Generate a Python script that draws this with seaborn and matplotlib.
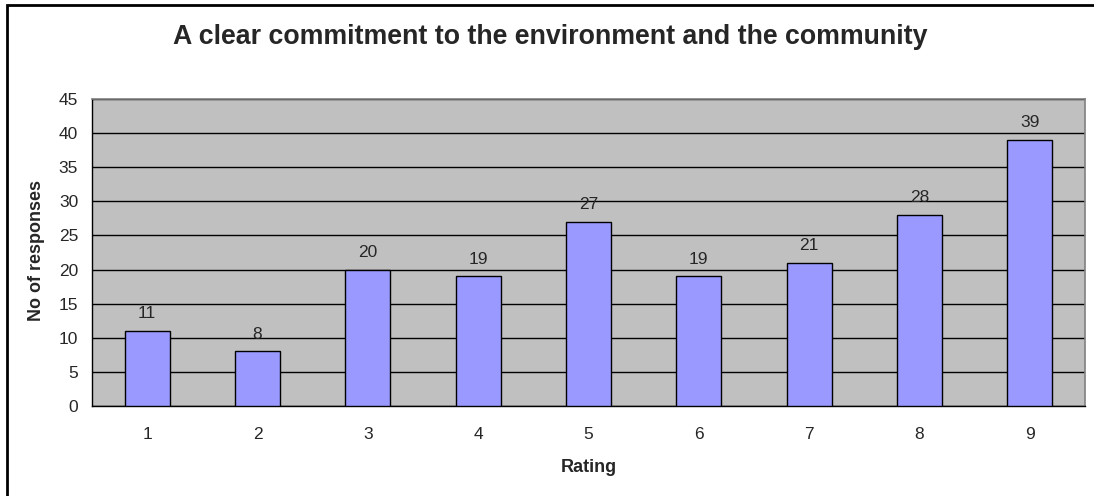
import matplotlib
matplotlib.use("Agg")
import matplotlib.pyplot as plt
import seaborn as sns
import pandas as pd
from matplotlib.patches import Rectangle

# data
ratings = ["1", "2", "3", "4", "5", "6", "7", "8", "9"]
responses = [11, 8, 20, 19, 27, 19, 21, 28, 39]

df = pd.DataFrame({"Rating": ratings, "Responses": responses})

sns.set_style("white")
plt.rcParams['font.family'] = ['Liberation Sans', 'DejaVu Sans']

fig = plt.figure(figsize=(10.94, 4.96), dpi=100)
ax = fig.add_axes([92 / 1094, 1 - 406 / 496, (1085 - 92) / 1094, (406 - 99) / 496])
ax.set_facecolor("#C0C0C0")

sns.barplot(data=df, x="Rating", y="Responses", color="#9999FF",
            edgecolor="black", linewidth=1, width=0.41, saturation=1, ax=ax, zorder=3)

ax.set_ylim(0, 45)
ax.set_yticks(range(0, 46, 5))
ax.set_xlim(-0.5, 8.5)
ax.yaxis.grid(True, color="black", linewidth=1, zorder=1)
ax.set_axisbelow(True)

# x ticks between categories, labels centred
ax.set_xticks([i + 0.5 for i in range(-1, 9)], minor=False)
ax.set_xticklabels([])
ax.set_xticks(range(9), minor=True)
ax.set_xticklabels(ratings, minor=True)
ax.tick_params(axis="x", which="major", direction="out", length=5, width=1, color="black")
ax.tick_params(axis="x", which="minor", length=0, pad=15, labelsize=12.5)
ax.tick_params(axis="y", direction="out", length=5, width=1, color="black", labelsize=12.5, pad=5)

for side in ["left", "bottom"]:
    ax.spines[side].set_color("black")
    ax.spines[side].set_linewidth(1)
for side in ["top", "right"]:
    ax.spines[side].set_color("#808080")
    ax.spines[side].set_linewidth(1.2)

# value labels
for i, v in enumerate(responses):
    ax.text(i, v + 1.4, str(v), ha="center", va="bottom", fontsize=12.5)

ax.set_xlabel("Rating", fontsize=13, fontweight="bold")
ax.set_ylabel("No of responses", fontsize=13, fontweight="bold")
ax.xaxis.set_label_coords(0.5, -0.173)
ax.yaxis.set_label_coords(-0.047, 0.505)

fig.text(0.503, 1 - 37 / 496, "A clear commitment to the environment and the community",
         ha="center", va="center", fontsize=19.3, fontweight="bold")

# chart border
fig.patches.append(Rectangle((7 / 1094, -0.1), 1.2, 1 - 5 / 496 + 0.1,
                             transform=fig.transFigure, fill=False,
                             edgecolor="black", linewidth=2))

fig.savefig("out.png", dpi=100)
